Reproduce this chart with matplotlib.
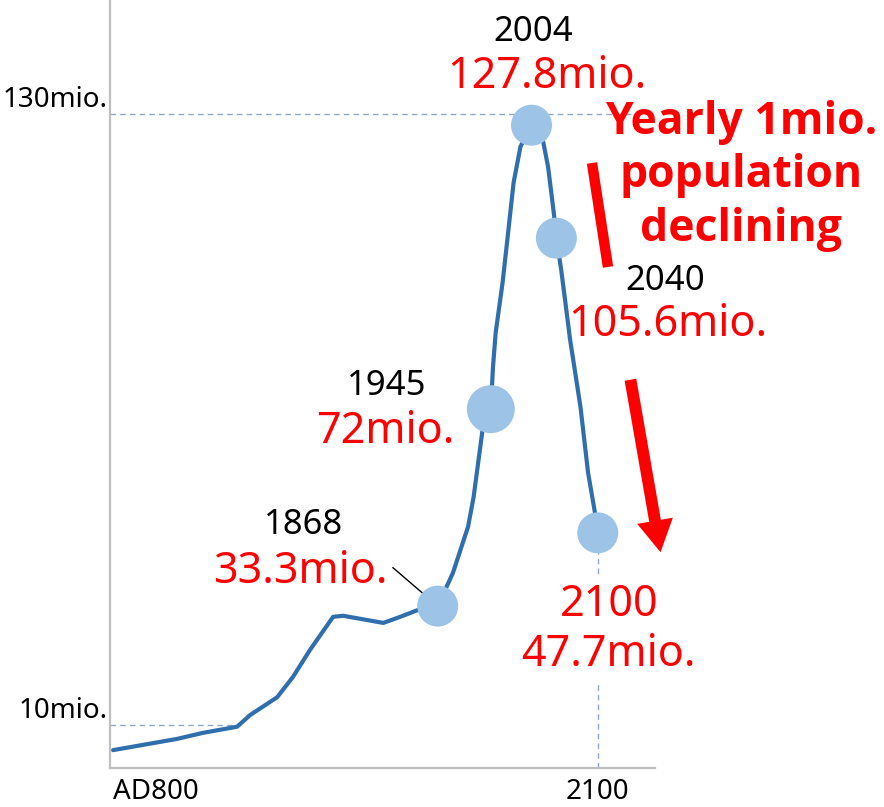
import numpy as np
import matplotlib
matplotlib.use("Agg")
import matplotlib.pyplot as plt
from matplotlib.lines import Line2D
from matplotlib.patches import FancyArrowPatch

plt.rcParams['font.family'] = ['Noto Sans', 'DejaVu Sans']

# Japan population, million people (historical + projection)
years = [800, 1010, 1096, 1208, 1251, 1340, 1392, 1448, 1524, 1557, 1689, 1745,
         1801, 1868, 1890, 1912, 1920, 1933, 1945, 1948, 1952, 1962, 1970, 1978,
         1988, 2004, 2021, 2028, 2034, 2038, 2040, 2047, 2060, 2075, 2086, 2096, 2100]
population = [5.0, 7.2, 8.4, 9.6, 11.9, 15.4, 19.4, 24.7, 31.2, 31.4, 30.0, 31.2,
              32.5, 33.3, 39.8, 48.9, 54.7, 67.9, 72.0, 80.0, 87.0, 96.8, 106.6, 116.5,
              123.6, 127.8, 124.5, 119.6, 113.1, 108.6, 105.6, 99.4, 85.6, 72.4, 59.5, 51.6, 47.7]

# highlighted milestones
key_years = [1868, 1945, 2004, 2040, 2100]
key_pop = [33.3, 72.0, 127.8, 105.6, 47.7]
key_year_text = ['1868', '1945', '2004', '2040', '2100']
key_pop_text = ['33.3mio.', '72mio.', '127.8mio.', '105.6mio.', '47.7mio.']

ref_levels = [130, 10]
ref_text = ['130mio.', '10mio.']
x_ticks = [800, 2100]
x_tick_text = ['AD800', '2100']

W, H = 884, 807
fig = plt.figure(figsize=(W / 100, H / 100), dpi=100)
ax = fig.add_axes([110 / W, (H - 768) / H, 545 / W, 768 / H])

# compress the centuries before 1868
SPLIT, RATIO = 1868.0, 0.4407


def fwd(x):
    x = np.asarray(x, dtype=float)
    return np.where(x < SPLIT, SPLIT + (x - SPLIT) * RATIO, x)


def inv(u):
    u = np.asarray(u, dtype=float)
    return np.where(u < SPLIT, SPLIT + (u - SPLIT) / RATIO, u)


ax.set_xscale('function', functions=(fwd, inv))
ax.set_xlim(790, 2183)
ax.set_ylim(1.49, 152.4)

for side in ['top', 'right']:
    ax.spines[side].set_visible(False)
for side in ['left', 'bottom']:
    ax.spines[side].set_color('#bfbfbf')
    ax.spines[side].set_linewidth(1.6)

ax.set_yticks([])
ax.set_xticks(x_ticks)
ax.set_xticklabels(x_tick_text, fontsize=20)
ax.tick_params(axis='x', length=0, pad=7)
ax.get_xticklabels()[0].set_ha('left')
ax.minorticks_off()

dash = dict(color='#8fa6c8', lw=1.0, dashes=(4, 3), zorder=1)

# reference levels
ys = np.array(population)
yr = np.array(years)
cross10 = np.interp(ref_levels[1], ys[:14], yr[:14])
ax.plot([790, 2183], [ref_levels[0]] * 2, **dash)
ax.plot([790, cross10], [ref_levels[1]] * 2, **dash)
for lvl, txt in zip(ref_levels, ref_text):
    ax.annotate(txt, xy=(0, lvl), xycoords=ax.get_yaxis_transform(),
                xytext=(-2, 7), textcoords='offset pixels',
                ha='right', va='baseline', fontsize=20, color='black')

# projection drop line for 2100
ax.plot([key_years[-1]] * 2, [1.49, key_pop[-1]], **dash)

ax.plot(years, population, color='#2f6fad', lw=3.0, solid_capstyle='round',
        solid_joinstyle='round', zorder=2)

dot_size = [29.5, 34.5, 29.5, 29.5, 29.5]
ax.scatter(key_years, key_pop, s=np.square(dot_size), color='#9dc3e6',
           edgecolors='none', zorder=3)

# label offsets (pixels) from each milestone point
year_off = [(-134, 81), (-104, 23), (2, 93), (109, -43), (11, -72)]
pop_off = [(-137, 34), (-106, -23), (15, 48), (111, -87), (11, -122)]
year_color = ['black', 'black', 'black', 'black', 'red']
box = dict(boxstyle='square,pad=0.15', fc='white', ec='none')

for i in range(len(key_years)):
    pt = (key_years[i], key_pop[i])
    ax.annotate(key_year_text[i], xy=pt, xytext=year_off[i], textcoords='offset pixels',
                ha='center', va='center', fontsize=25 if i < 4 else 31,
                color=year_color[i], zorder=4,
                bbox=box if i == 4 else None)
    kw = {}
    if i == 0:
        kw['arrowprops'] = dict(arrowstyle='-', color='black', lw=1.0,
                                relpos=(0.97, 0.8), shrinkA=2, shrinkB=15)
    ax.annotate(key_pop_text[i], xy=pt, xytext=pop_off[i], textcoords='offset pixels',
                ha='center', va='center', fontsize=31, color='red', zorder=4,
                bbox=box if i == 4 else None, **kw)


def fpx(x, y):
    return x / W, (H - y) / H


fig.text(*fpx(741, 176), 'Yearly 1mio.\npopulation\ndeclining', ha='center', va='center',
         fontsize=32, fontweight='bold', family=['Open Sans', 'DejaVu Sans'],
         color='red', linespacing=1.25)

# red trend marks
(x0, y0), (x1, y1) = fpx(592, 163), fpx(608, 267)
fig.add_artist(Line2D([x0, x1], [y0, y1], transform=fig.transFigure,
                      color='red', lw=7.5, solid_capstyle='butt'))
fig.add_artist(FancyArrowPatch(fpx(630, 377), fpx(661, 555), transform=fig.transFigure,
                               arrowstyle='simple,head_length=2.3,head_width=2.6,tail_width=0.85',
                               mutation_scale=10, color='red', lw=0))

fig.savefig('out.png', dpi=100)
